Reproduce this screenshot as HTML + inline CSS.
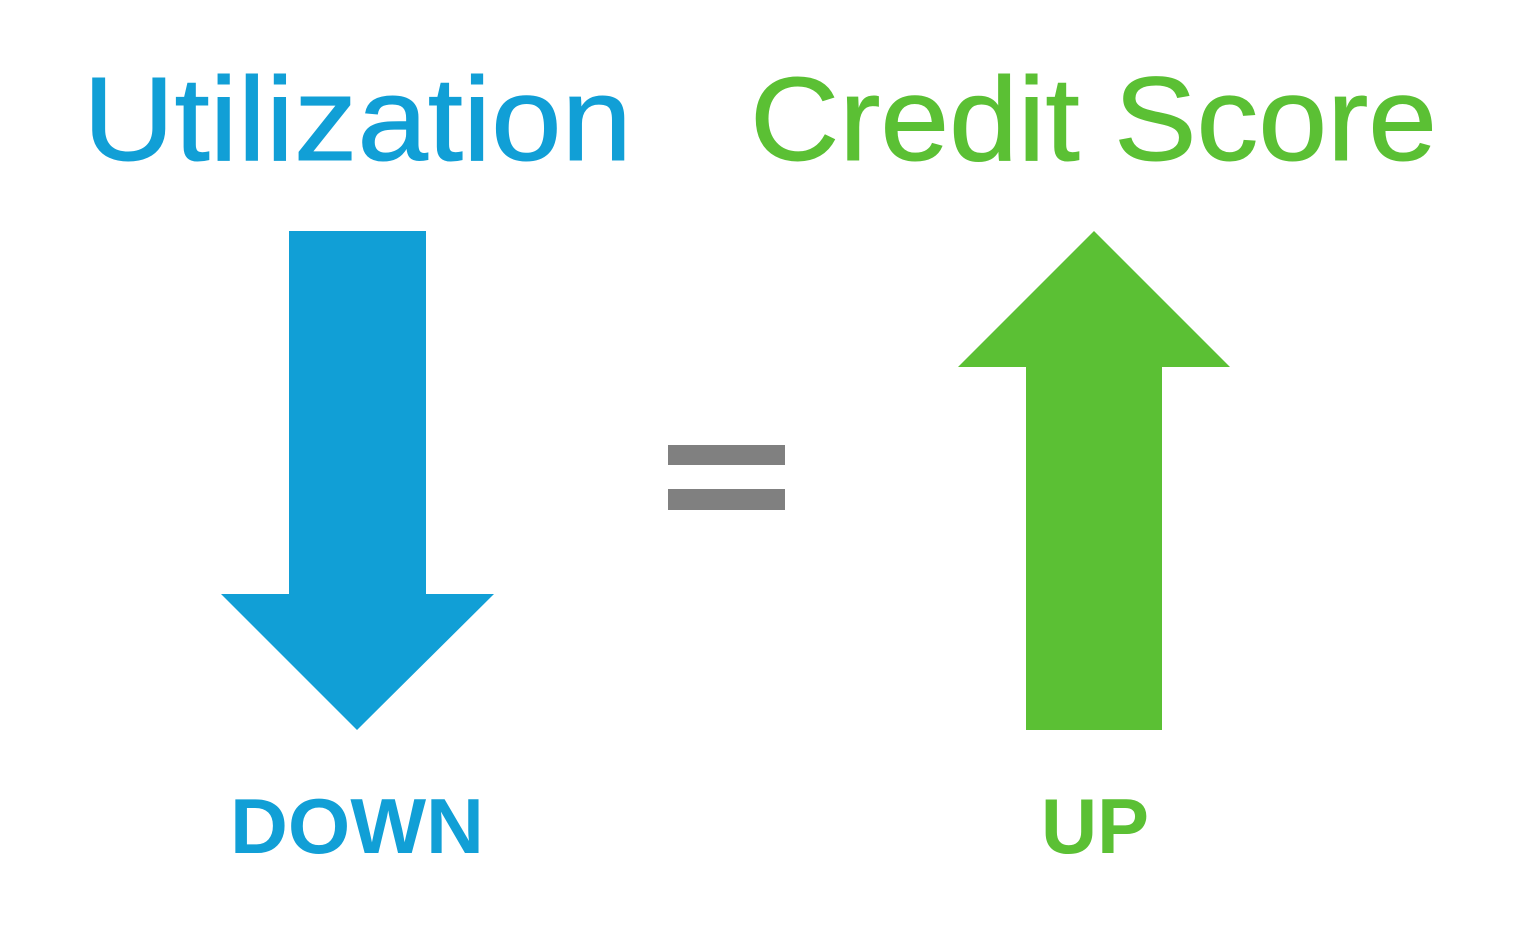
<!DOCTYPE html>
<html><head><style>html,body{margin:0;padding:0;background:#fff;}</style></head>
<body>
<svg width="1517" height="930" viewBox="0 0 1517 930" xmlns="http://www.w3.org/2000/svg">
<rect width="1517" height="930" fill="#fff"/>
<text x="83" y="160" font-family="Liberation Sans, sans-serif" font-size="119" fill="#119fd6" stroke="#119fd6" stroke-width="1" textLength="549" lengthAdjust="spacingAndGlyphs">Utilization</text>
<text x="750" y="160" font-family="Liberation Sans, sans-serif" font-size="119" fill="#5bc034" stroke="#5bc034" stroke-width="1" textLength="687" lengthAdjust="spacingAndGlyphs">Credit Score</text>
<polygon points="289,231 426,231 426,594 494,594 357,730 221,594 289,594" fill="#119fd6"/>
<polygon points="1094,231 1230,367 1162,367 1162,730 1026,730 1026,367 958,367" fill="#5bc034"/>
<rect x="668" y="445" width="117" height="20" fill="#808080"/>
<rect x="668" y="489" width="117" height="21" fill="#808080"/>
<text x="230" y="853" font-family="Liberation Sans, sans-serif" font-weight="bold" font-size="78" fill="#119fd6" textLength="254" lengthAdjust="spacingAndGlyphs">DOWN</text>
<text x="1041" y="853" font-family="Liberation Sans, sans-serif" font-weight="bold" font-size="78" fill="#5bc034" textLength="108" lengthAdjust="spacingAndGlyphs">UP</text>
</svg>
</body></html>
